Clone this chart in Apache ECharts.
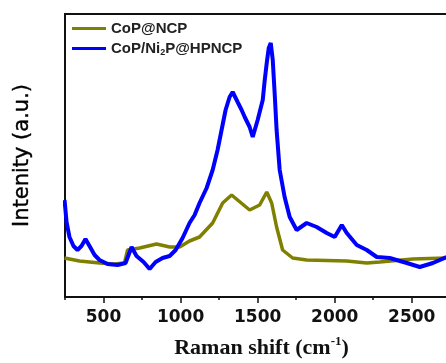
<!DOCTYPE html>
<html>
<head>
<meta charset="utf-8">
<script src="https://cdn.jsdelivr.net/npm/echarts@6/dist/echarts.min.js"></script>
<style>html,body{margin:0;padding:0;background:#fff;}#c{width:446px;height:363px;}</style>
</head>
<body>
<div id="c"></div>
<script>
var seriesNames = ['CoP@NCP', 'CoP/Ni2P@HPNCP'];
var majorTicks = [500, 1000, 1500, 2000, 2500];
var minorTicks = [250, 750, 1250, 1750, 2250, 2750];

var copNcpShift = [247,344,474,571,636,656,734,844,929,994,1058,1123,1208,1273,1331,1370,1448,1513,1559,1591,1623,1662,1727,1818,2078,2208,2292,2507,2725];
var copNcpInt   = [39,36,34,33,34,47,49,53,50,50,56,60,74,94,102,97,87,92,105,94,70,47,39,37,36,34,35,38,39];

var hpncpShift = [247,260,279,305,331,357,383,409,442,474,526,591,643,682,714,760,799,838,883,929,968,1013,1058,1091,1123,1169,1208,1240,1266,1292,1318,1338,1370,1396,1416,1448,1468,1500,1533,1546,1559,1572,1585,1598,1611,1623,1643,1675,1708,1753,1818,1883,1948,2000,2046,2078,2143,2208,2273,2357,2468,2552,2637,2725];
var hpncpInt   = [97,75,60,51,47,51,58,51,42,37,33,32,34,50,41,35,28,35,39,41,47,59,74,82,94,109,127,147,167,187,200,205,195,187,180,170,160,177,197,217,234,249,254,237,202,167,127,100,80,67,74,70,64,60,72,64,52,47,40,39,34,30,34,40];

function zip(a, b) { return a.map(function (v, i) { return [v, b[i]]; }); }

var chart = echarts.init(document.getElementById('c'));
var axisColor = '#111';
chart.setOption({
  animation: false,
  grid: { left: 65, width: 393, top: 14, bottom: 66, outerBoundsMode: 'none', containLabel: false,
    show: true, borderColor: axisColor, borderWidth: 2, backgroundColor: 'transparent' },
  legend: {
    orient: 'vertical', left: 67, top: 16, itemGap: 5, itemWidth: 34, itemHeight: 3,
    icon: 'rect',
    data: seriesNames,
    formatter: function (n) {
      if (n === 'CoP/Ni2P@HPNCP') return '{a|CoP/Ni}{s|2}{a|P@HPNCP}';
      return '{a|' + n + '}';
    },
    textStyle: {
      rich: {
        a: { fontFamily: 'Liberation Sans, Arial', fontWeight: 'bold', fontSize: 15, color: '#222', lineHeight: 17 },
        s: { fontFamily: 'Liberation Sans, Arial', fontWeight: 'bold', fontSize: 9, color: '#222', lineHeight: 17, verticalAlign: 'bottom', padding: [4, 0, 0, 0] }
      }
    }
  },
  xAxis: [{
    type: 'value', min: 250, max: 2800, position: 'bottom',
    axisLine: { show: true, lineStyle: { color: axisColor, width: 2 } },
    axisTick: { show: true, length: 6, inside: false, lineStyle: { color: axisColor, width: 1.5 }, customValues: majorTicks },
    axisLabel: { show: true, customValues: majorTicks, margin: 12, fontFamily: 'DejaVu Sans', fontWeight: 'bold', fontSize: 17, color: '#111',
      formatter: function (v) { return String(v); } },
    splitLine: { show: false },
    name: '{t|Raman shift (cm}{u|-1}{t|)}', nameLocation: 'middle', nameGap: 38,
    nameTextStyle: {
      rich: {
        t: { fontFamily: 'Liberation Serif, Times New Roman', fontWeight: 'bold', fontSize: 22, color: '#111', lineHeight: 26 },
        u: { fontFamily: 'Liberation Serif, Times New Roman', fontWeight: 'bold', fontSize: 13, color: '#111', lineHeight: 26, verticalAlign: 'top', padding: [0, 0, 10, 0] }
      }
    }
  }, {
    type: 'value', min: 250, max: 2800, position: 'bottom',
    axisLine: { show: false },
    axisTick: { show: true, length: 3, lineStyle: { color: axisColor, width: 1.5 }, customValues: minorTicks },
    axisLabel: { show: false },
    splitLine: { show: false }
  }],
  yAxis: {
    type: 'value', min: 0, max: 283,
    axisLine: { show: true, lineStyle: { color: axisColor, width: 2 } },
    axisTick: { show: false }, axisLabel: { show: false }, splitLine: { show: false },
    name: 'Intenity (a.u.)', nameLocation: 'middle', nameGap: 32, nameRotate: 90,
    nameTextStyle: { fontFamily: 'DejaVu Sans', fontSize: 21, color: '#000', textBorderColor: '#000', textBorderWidth: 0.4 }
  },
  series: [{
    name: seriesNames[0], type: 'line', showSymbol: false, symbol: 'none',
    data: zip(copNcpShift, copNcpInt), lineStyle: { color: '#808000', width: 3.5 }, itemStyle: { color: '#808000' }
  }, {
    name: seriesNames[1], type: 'line', showSymbol: false, symbol: 'none',
    data: zip(hpncpShift, hpncpInt), lineStyle: { color: '#0000ff', width: 4 }, itemStyle: { color: '#0000ff' }
  }]
});
</script>
</body>
</html>
